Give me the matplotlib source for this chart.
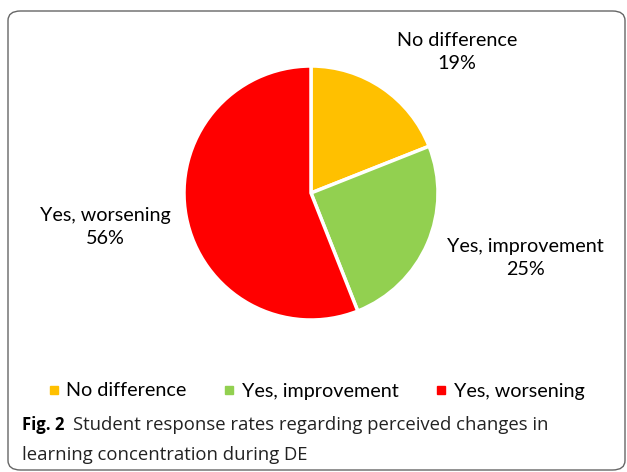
import matplotlib.pyplot as plt
import matplotlib.patches as mpatches
from matplotlib.lines import Line2D

# Date
categories = ["No difference", "Yes, improvement", "Yes, worsening"]
values = [19, 25, 56]
colors = ["#FFC000", "#92D050", "#FF0000"]

W, H = 627, 472
fig = plt.figure(figsize=(W / 100, H / 100), dpi=100)

# cadru rotunjit
frame = mpatches.FancyBboxPatch(
    (8 / W, 1 - 470 / H), 617 / W, 459 / H,
    boxstyle="round,pad=0,rounding_size=0.02",
    transform=fig.transFigure, fill=False, edgecolor="#666666", lw=1.0,
)
fig.patches.append(frame)

# pie
cx, cy, r = 311, 193, 127
ax = fig.add_axes([(cx - r) / W, 1 - (cy + r) / H, 2 * r / W, 2 * r / H])
ax.pie(values, colors=colors, startangle=90, counterclock=False, radius=1,
       wedgeprops=dict(edgecolor="white", linewidth=2.5))
ax.set_xlim(-1, 1)
ax.set_ylim(-1, 1)
ax.set_aspect("auto")
ax.axis("off")

label_pos = [(1.15, 1.11), (1.69, -0.51), (-1.62, -0.27)]
for name, v, (lx, ly) in zip(categories, values, label_pos):
    ax.text(lx, ly, f"{name}\n{v}%", ha="center", va="center",
            fontsize=14.2, family="Lato", linespacing=1.45, clip_on=False)

# Legenda
handles = [Line2D([], [], marker="s", linestyle="none", markersize=6,
                  color=c, label=n) for n, c in zip(categories, colors)]
fig.legend(handles=handles, loc="center", bbox_to_anchor=(0.505, 1 - 391 / H),
           ncol=3, frameon=False, handlelength=0.5, handletextpad=0.4,
           columnspacing=1.9, prop={"family": "Lato", "size": 14.2})

# Caption
fig.text(22 / W, 1 - 425 / H, "Fig. 2", fontsize=12, fontweight="bold",
         family="Open Sans", va="center")
fig.text(73 / W, 1 - 425 / H, "Student response rates regarding perceived changes in",
         fontsize=13.3, family="Open Sans", va="center", color="#222222")
fig.text(22 / W, 1 - 455 / H, "learning concentration during DE",
         fontsize=13.3, family="Open Sans", va="center", color="#222222")

plt.savefig("out.png", dpi=100)
plt.close()
